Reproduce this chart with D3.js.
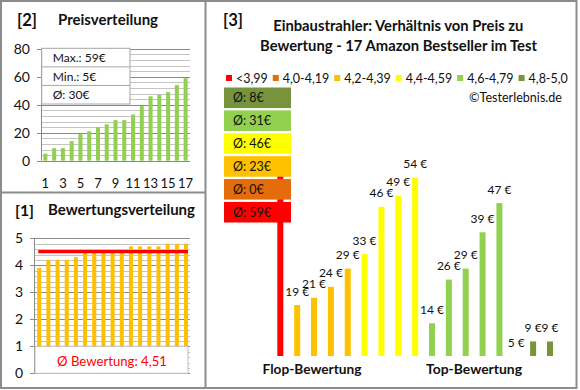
<!DOCTYPE html>
<html><head><meta charset="utf-8">
<script src="https://cdn.jsdelivr.net/npm/d3@7"></script>
<style>body{margin:0;background:#fff}svg{display:block;font-family:Lato,'Open Sans',sans-serif}</style>
</head><body><svg id="c" width="580" height="390"></svg>
<script>
// ---------- data ----------
const priceRank = d3.range(1, 18);
const pricesSorted = [5,9,9,14,19,21,24,26,29,29,33,39,46,47,49,54,59];
const priceTicks = [0,20,40,60,80];
const priceXTicks = [1,3,5,7,9,11,13,15,17];
const priceStats = ["Max.: 59€","Min.: 5€","Ø: 30€"];

const ratingsSorted = [3.9,4.2,4.2,4.2,4.3,4.5,4.5,4.5,4.5,4.6,4.7,4.7,4.7,4.7,4.8,4.8,4.8];
const ratingTicks = [0,1,2,3,4,5];
const avgRating = 4.51;
const avgRatingLabel = "Ø Bewertung: 4,51";

const productPrices = [59,19,21,24,29,33,46,49,54,14,26,29,39,47,5,9,9];
const productClass  = [0,2,2,2,2,3,3,3,3,4,4,4,4,4,5,5,5];
const classLabels = ["<3,99","4,0-4,19","4,2-4,39","4,4-4,59","4,6-4,79","4,8-5,0"];
const classAvgPrice = [59,0,23,46,31,8];
const classColors = ["#FF0000","#E46C0A","#FFC000","#FFFF00","#92D050","#77933C"];

// ---------- helpers ----------
const svg = d3.select('#c');
const txt = '#111';
function fit(sel, w){
  const l = sel.node().getComputedTextLength();
  const fs = parseFloat(sel.attr('font-size'));
  sel.attr('font-size', (fs*w/l).toFixed(2));
  return fs*w/l;
}
function t(x,y,s,opt={}){
  const e = svg.append('text').attr('x',x).attr('y',y).text(s)
    .attr('font-size',opt.fs||12).attr('fill',opt.fill||txt)
    .attr('font-weight',opt.bold?'bold':'normal')
    .attr('text-anchor',opt.anchor||'start');
  if(opt.w) fit(e,opt.w);
  return e;
}

// ---------- borders ----------
const bc = '#8c8c8c';
svg.append('rect').attr('x',1).attr('y',1).attr('width',575.5).attr('height',387)
  .attr('fill','none').attr('stroke',bc).attr('stroke-width',2);
svg.append('line').attr('x1',205.5).attr('x2',205.5).attr('y1',1).attr('y2',388).attr('stroke',bc).attr('stroke-width',2);
svg.append('line').attr('x1',1).attr('x2',205.5).attr('y1',192.5).attr('y2',192.5).attr('stroke',bc).attr('stroke-width',2);

const minorC = '#c4c4c4', majorC = '#8a8a8a';

// ---------- panel [2] ----------
t(17,26,'[2]',{bold:true,fs:16,w:20});
t(58,25,'Preisverteilung',{bold:true,fs:13,w:100});
const x2 = d3.scaleBand().domain(priceRank).range([41,190]).paddingInner(0.54).paddingOuter(0.27);
const y2 = d3.scaleLinear().domain([0,80]).range([160.7,48.7]);
d3.range(0,81,4).forEach(v=>{
  const maj = v%20===0;
  svg.append('line').attr('x1',maj?37:41).attr('x2',190).attr('y1',Math.round(y2(v))+0.5).attr('y2',Math.round(y2(v))+0.5)
    .attr('stroke',maj?majorC:minorC).attr('stroke-width',1);
});
svg.append('line').attr('x1',41.5).attr('x2',41.5).attr('y1',y2(80)).attr('y2',y2(0)).attr('stroke',majorC);
const ax2 = svg.append('g').attr('transform','translate(41,0)')
  .call(d3.axisLeft(y2).tickValues(priceTicks).tickFormat(d3.format('d')).tickSize(0).tickPadding(11));
ax2.select('.domain').remove();
ax2.selectAll('text').attr('font-size',14).attr('font-family','Lato').attr('fill',txt);
svg.append('g').selectAll('rect').data(pricesSorted).join('rect')
  .attr('x',(d,i)=>x2(priceRank[i])).attr('width',x2.bandwidth())
  .attr('y',d=>y2(d)).attr('height',d=>y2(0)-y2(d)).attr('fill','#92D050');
const bx2 = svg.append('g').attr('transform','translate(0,160.7)')
  .call(d3.axisBottom(x2).tickValues(priceXTicks).tickSize(0).tickPadding(18));
bx2.select('.domain').remove();
bx2.selectAll('text').attr('font-size',13).attr('font-family','Lato').attr('fill',txt);
// stats box
const sb = d3.scaleBand().domain(priceStats).range([48.3,104]);
svg.append('rect').attr('x',41.7).attr('y',48.3).attr('width',88.3).attr('height',55.7)
  .attr('fill','#fff').attr('stroke','#a6a6a6');
priceStats.forEach((s,i)=>{
  if(i>0) svg.append('line').attr('x1',41.7).attr('x2',130).attr('y1',sb(s)).attr('y2',sb(s)).attr('stroke','#a6a6a6');
});
let fsStat;
priceStats.forEach((s,i)=>{
  const e = t(52.7, sb(s)+sb.bandwidth()/2+4.5, s, {fs:12});
  if(i===0) fsStat = fit(e,53); else e.attr('font-size',fsStat);
});

// ---------- panel [1] ----------
t(15,216,'[1]',{bold:true,fs:16,w:19});
t(48,215,'Bewertungsverteilung',{bold:true,fs:13,w:147});
const x1 = d3.scaleBand().domain(priceRank).range([34.6,190.6]).paddingInner(0.56).paddingOuter(0.28);
const y1 = d3.scaleLinear().domain([0,5]).range([373.3,238.3]);
d3.range(0,26).forEach(k=>{
  const v = k/5, maj = k%5===0;
  svg.append('line').attr('x1',maj?30:35).attr('x2',190).attr('y1',Math.round(y1(v))+0.5).attr('y2',Math.round(y1(v))+0.5)
    .attr('stroke',maj?majorC:minorC);
});
svg.append('line').attr('x1',34.5).attr('x2',34.5).attr('y1',y1(5)).attr('y2',y1(0)).attr('stroke',majorC);
const ax1 = svg.append('g').attr('transform','translate(35,0)')
  .call(d3.axisLeft(y1).tickValues(ratingTicks).tickFormat(d3.format('d')).tickSize(0).tickPadding(12));
ax1.select('.domain').remove();
ax1.selectAll('text').attr('font-size',14).attr('font-family','Lato').attr('fill',txt);
svg.append('g').selectAll('rect').data(ratingsSorted).join('rect')
  .attr('x',(d,i)=>x1(priceRank[i])).attr('width',x1.bandwidth())
  .attr('y',d=>y1(d)).attr('height',d=>y1(0)-y1(d)).attr('fill','#FFC000');
svg.append('rect').attr('x',35).attr('y',y1(1)).attr('width',153).attr('height',y1(0)-y1(1))
  .attr('fill','#fff').attr('stroke','#bfbfbf');
t(112,365.5,avgRatingLabel,{fs:14,fill:'#FF0000',anchor:'middle',w:110});
svg.append('line').attr('x1',38.3).attr('x2',188).attr('y1',y1(avgRating)).attr('y2',y1(avgRating))
  .attr('stroke','#FF0000').attr('stroke-width',3.2);

// ---------- panel [3] ----------
t(223,26,'[3]',{bold:true,fs:16,w:20});
const l2 = t(398.5,51,'Bewertung - 17 Amazon Bestseller im Test',{bold:true,fs:13,anchor:'middle'});
const fsT = fit(l2,277);
t(398.3,31,'Einbaustrahler: Verhältnis von Preis zu',{bold:true,fs:fsT,anchor:'middle'});

// legend
const probe = svg.append('text').attr('font-size',12).text('4,0-4,19');
const fsLeg = 12*46.5/probe.node().getComputedTextLength();
probe.remove();
let lx = 226;
classLabels.forEach((s,i)=>{
  svg.append('rect').attr('x',lx).attr('y',75).attr('width',6).attr('height',6).attr('fill',classColors[i]);
  const e = t(lx+10,82.5,s,{fs:fsLeg});
  lx += 10 + e.node().getComputedTextLength() + 5;
});
t(562,102,'©Testerlebnis.de',{fs:12,anchor:'end',w:93});

const x3 = d3.scaleBand().domain(d3.range(productPrices.length)).range([271.9,558.4]).paddingInner(0.644).paddingOuter(0.322);
const y3 = d3.scaleLinear().domain([5,60]).range([356,356-55*3.639]);
svg.append('g').selectAll('rect').data(productPrices).join('rect')
  .attr('x',(d,i)=>x3(i)).attr('width',x3.bandwidth())
  .attr('y',d=>y3(d)).attr('height',d=>y3(5)-y3(d)).attr('fill',(d,i)=>classColors[productClass[i]]);
// value labels (the worst-class label is hidden behind the average boxes in the original)
svg.append('g').selectAll('text').data(productPrices.map((p,i)=>({p,i})).filter(d=>productClass[d.i]!==0)).join('text')
  .attr('x',d=>x3(d.i)+x3.bandwidth()/2).attr('y',d=>y3(d.p)-9.5)
  .attr('text-anchor','middle').attr('font-size',12).attr('fill',txt).text(d=>d.p+' €');

// class average boxes (top: best class)
const boxOrder = d3.range(classLabels.length).reverse();
const yb = d3.scaleBand().domain(boxOrder).range([87.5,222.5]).paddingInner(0.1);
boxOrder.forEach(c=>{
  svg.append('rect').attr('x',224).attr('y',yb(c)).attr('width',67).attr('height',yb.bandwidth()).attr('fill',classColors[c]);
  t(233,yb(c)+yb.bandwidth()/2+4.5,'Ø: '+classAvgPrice[c]+'€',{fs:12.5});
});

t(312,374,'Flop-Bewertung',{bold:true,fs:13,anchor:'middle',w:99});
t(474,374,'Top-Bewertung',{bold:true,fs:13,anchor:'middle',w:96});
</script></body></html>
